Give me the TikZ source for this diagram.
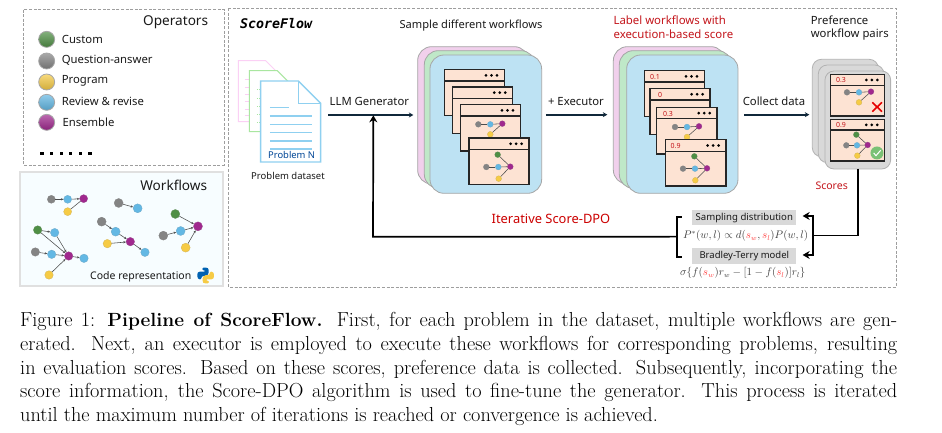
\documentclass[tikz,border=0pt]{standalone}
\usepackage{fontspec}
\usetikzlibrary{arrows.meta}
\newfontfamily\lab{Noto Sans}
\newfontfamily\codef{DejaVu Sans Mono}
\definecolor{cgray}{HTML}{848484}
\definecolor{cblue}{HTML}{63B8E4}
\definecolor{cyell}{HTML}{F6CB45}
\definecolor{cpurp}{HTML}{A0288E}
\definecolor{cgreen}{HTML}{4F8F45}
\definecolor{dark}{HTML}{10283A}
\definecolor{redt}{HTML}{C4161C}
\definecolor{peach}{HTML}{FDE3D3}
\definecolor{pinkp}{HTML}{F1D0EC}
\definecolor{greenp}{HTML}{BFE8C8}
\definecolor{bluep}{HTML}{BDE2F3}
\definecolor{docb}{HTML}{8FD0F0}
\definecolor{docp}{HTML}{FBD0F5}
\definecolor{docg}{HTML}{A9E6A0}
\tikzset{
  dotn/.style={circle,inner sep=0pt,minimum size=5.8pt,draw=#1!70!gray,line width=.3pt},
  gd/.style={dotn=cgray,fill=cgray},
  bd/.style={dotn=cblue,fill=cblue},
  yd/.style={dotn=cyell,fill=cyell},
  pd/.style={dotn=cpurp,fill=cpurp},
  cd/.style={dotn=cgreen,fill=cgreen},
  bigd/.style={minimum size=16pt,draw=gray!70,line width=.8pt,shading=axis,shading angle=135,top color=#1!70!white,bottom color=#1!85!black},
  edg/.style={draw=black!70,line width=.55pt},
  edga/.style={edg,-{Stealth[length=2.6pt,width=2.2pt]}},
  dashbox/.style={draw=black!38,line width=.9pt,dash pattern=on 3pt off 1.6pt},
  panelp/.style={draw=gray!70!white,line width=.8pt,rounded corners=14pt},
  wfbox/.style={draw=black!85,line width=1.1pt,fill=peach},
  flowarrow/.style={draw=dark,line width=1.9pt,-{Stealth[length=4.5pt,width=5pt]}},
  backline/.style={draw=black,line width=1.7pt},
  backarrow/.style={backline,-{Stealth[length=7pt,width=8pt]}},
  lbl/.style={font=\lab\fontsize{11.3}{13}\selectfont,text=black!90,inner sep=0pt},
  lbls/.style={font=\lab\fontsize{9.5}{11}\selectfont,text=black!90,inner sep=0pt},
  oplbl/.style={font=\lab\fontsize{11.3}{13}\selectfont,text=black!90,inner sep=0pt,anchor=west},
  titlel/.style={font=\lab\fontsize{13.6}{15}\selectfont,text=black!90,inner sep=0pt},
  redl/.style={font=\lab\fontsize{10.5}{12}\selectfont,text=redt,inner sep=0pt},
  scorel/.style={font=\lab\fontsize{7}{8}\selectfont,text=redt,inner sep=0pt},
  capl/.style={anchor=base west,inner sep=0pt,font=\fontsize{20.3}{24}\selectfont},
  zoomA/.style={x=.3333pt,y=-.3333pt,shift={(10pt,0pt)}},
  zoomB/.style={x=.3333pt,y=-.3333pt,shift={(320pt,0pt)}},
  zoomC/.style={x=.3333pt,y=-.3333pt,shift={(600pt,0pt)}},
}
% three-dots: right end x, y
\newcommand\tdots[2]{\foreach \k in {0,1,2}{\fill[black] ({#1-\k*16.5},{#2}) circle (1.5pt);}}
% window: x1 y1 x2 y2 header
\newcommand\wfwin[5]{%
  \draw[wfbox] (#1,#2) rectangle (#3,#4);
  \draw[wfbox] (#1,#2) rectangle (#3,#5);
  \tdots{#3-22}{#2+(#5-#2)/2}}
\newcommand\flowA[3]{\begin{scope}[shift={(#2,#3)}]
  \node[gd] (#1g) at (0,0) {};\node[bd] (#1b) at (36,0) {};
  \node[pd] (#1p) at (72,-2) {};\node[yd] (#1y) at (36,30) {};
  \draw[edg] (#1g)--(#1b); \draw[edg] (#1b)--(#1p); \draw[edg] (#1y)--(#1p);
\end{scope}}
\newcommand\flowB[3]{\begin{scope}[shift={(#2,#3)}]
  \node[cd] (#1c) at (34,-37) {};\node[gd] (#1g) at (0,0) {};\node[bd] (#1b) at (36,0) {};
  \node[pd] (#1p) at (72,-1) {};\node[yd] (#1y) at (37,35) {};
  \draw[edg] (#1g)--(#1b); \draw[edg] (#1b)--(#1p); \draw[edg] (#1y)--(#1p); \draw[edg] (#1c)--(#1p);
\end{scope}}
\newcommand\pgr[1]{\textcolor{red!75!white}{#1}}
\newcommand\docshape[5]{%
  \draw[draw=#5,line width=1pt,fill=white] (#1,#2)--({#3-33},#2)--(#3,{#2+33})--(#3,#4)--(#1,#4)--cycle;}
\begin{document}
\begin{tikzpicture}[x=1pt,y=-1pt]
\useasboundingbox (0,0) rectangle (942,432);
\fill[white] (0,0) rectangle (942,432);

% ---------- frames
\draw[dashbox] (23.3,9.5) rectangle (224,165);
\draw[draw=black!12,line width=1.1pt,fill=cyan!3!white] (20,172) rectangle (223,286);
\draw[dashbox,line width=.7pt] (228.5,8) rectangle (896,287);

% ---------- operators
\begin{scope}[zoomA]
\node[titlel,anchor=east] (optitle) at (595,68) {Operators};
\node[circle,bigd=cgreen] (op1) at (110,118) {};
\node[circle,bigd=cgray]  (op2) at (110,183) {};
\node[circle,bigd=cyell]  (op3) at (110,246) {};
\node[circle,bigd=cblue]  (op4) at (110,307) {};
\node[circle,bigd=cpurp]  (op5) at (110,367) {};
\node[oplbl] (opl1) at (155,118) {Custom};
\node[oplbl] (opl2) at (155,180) {Question-answer};
\node[oplbl] (opl3) at (155,243) {Program};
\node[oplbl] (opl4) at (155,304) {Review \& revise};
\node[oplbl] (opl5) at (157,366) {Ensemble};
\foreach \i in {0,...,5}{\fill[black] ({96+\i*28.8-5},455) rectangle ({96+\i*28.8+5},466);}

% ---------- workflows
\node[titlel,anchor=east] (wftitle) at (592,555) {Workflows};
\node[gd,minimum size=8pt] (a1) at (124,598) {};
\node[bd,minimum size=8pt] (a2) at (173,598) {};
\node[pd,minimum size=8pt] (a3) at (221,596) {};
\node[yd,minimum size=8pt] (a4) at (173,635) {};
\draw[edga] (a1)--(a2); \draw[edga] (a2)--(a3); \draw[edg] (a4)--(a3);
\node[gd,minimum size=9pt] (b1) at (326,609) {};
\node[bd,minimum size=9pt] (b2) at (383,625) {};
\draw[edga] (b1)--(b2);
\node[gd,minimum size=9pt] (c1) at (275,665) {};
\node[bd,minimum size=9pt] (c2) at (317,695) {};
\node[pd,minimum size=8.5pt] (c3) at (361,725) {};
\node[yd,minimum size=8.5pt] (c4) at (292,731) {};
\node[bd,minimum size=8.5pt] (c5) at (405,757) {};
\draw[edga] (c1)--(c2); \draw[edga] (c2)--(c3); \draw[edga] (c4)--(c3); \draw[edga] (c3)--(c5);
\node[cd,minimum size=9pt] (d1) at (496,642) {};
\node[pd,minimum size=9pt] (d2) at (564,679) {};
\node[bd,minimum size=9pt] (d3) at (512,693) {};
\node[gd,minimum size=9pt] (d4) at (460,707) {};
\node[yd,minimum size=9pt] (d5) at (527,743) {};
\draw[edga] (d1)--(d2); \draw[edga] (d4)--(d3); \draw[edga] (d3)--(d2); \draw[edga] (d5)--(d2);
\node[cd,minimum size=8.5pt] (e1) at (83,690) {};
\node[bd,minimum size=8.5pt] (e2) at (134,698) {};
\node[gd,minimum size=8.5pt] (e3) at (76,756) {};
\node[bd,minimum size=8.5pt] (e4) at (125,763) {};
\node[pd,minimum size=8.5pt] (e5) at (176,768) {};
\node[bd,minimum size=8.5pt] (e6) at (222,775) {};
\node[yd,minimum size=8.5pt] (e7) at (117,825) {};
\draw[edga] (e1)--(e2); \draw[edga] (e1)--(e5); \draw[edga] (e2)--(e5); \draw[edga] (e3)--(e4);
\draw[edga] (e4)--(e5); \draw[edga] (e5)--(e6); \draw[edga] (e7)--(e5);
\node[lbls,font=\lab\fontsize{10.5}{12}\selectfont,anchor=west] (coderep) at (240,829) {Code representation};
% python logo
\fill[rounded corners=1.1pt,fill=blue!45!cyan!70!black]
  (577,803)--(592,803)--(596,807)--(596,821)--(590,827)--(577,828)--(574,832)--(574,838)--(566,838)--(562,832)--(562,820)--(566,815)--(586,815)--(586,811)--(577,811)--cycle;
\fill[rounded corners=1.1pt,fill=cyell]
  (597,850)--(582,850)--(578,846)--(578,832)--(584,826)--(597,825)--(600,821)--(600,815)--(608,815)--(612,821)--(612,833)--(608,838)--(588,838)--(588,842)--(597,842)--cycle;

% ---------- document stack
\docshape{685}{182}{800}{365}{docp}
\foreach \y in {240,262,284,306,328,348}{\draw[draw=docp,line width=1pt] (705,\y)--(716,\y);}
\docshape{718}{212}{835}{395}{docg}
\foreach \y in {270,295,320,345,368}{\draw[draw=docg,line width=1pt,dash pattern=on 1.5pt off 1pt] (741,\y)--(749,\y);}
\draw[draw=docb,line width=1.4pt,fill=white] (752,243)--(865,243)--(932,310)--(932,486)--(752,486)--cycle;
\draw[draw=docb,line width=1.4pt] (865,243)--(865,310)--(932,310);
\draw[draw=docb,line width=1.2pt] (780,323)--(838,323);
\foreach \y in {348,373,398,423,447}{\draw[draw=docb,line width=1.2pt] (780,\y)--(905,\y);}
\node[font=\lab\fontsize{9.4}{12}\selectfont,text=black!30!blue!45!teal,inner sep=0pt] (probn) at (845,464) {Problem N};
\node[lbls] (probd) at (834,527) {Problem dataset};
\node[font=\codef\bfseries\itshape\fontsize{13.3}{15}\selectfont,inner sep=0pt,anchor=west] (sf) at (690,72) {ScoreFlow};
\end{scope}

% ---------- first stack
\begin{scope}[zoomB]
\node[lbl,font=\lab\fontsize{11.1}{13}\selectfont] (samp) at (453,78) {Sample different workflows};
\draw[panelp,fill=pinkp] (293,140) rectangle (625,552);
\draw[panelp,fill=greenp] (313,152) rectangle (645,565);
\draw[panelp,fill=bluep] (330,165) rectangle (665,580);
\wfwin{374}{209}{553}{347}{243}
\wfwin{398}{261}{578}{400}{295}
\wfwin{421}{314}{601}{453}{348}
\flowA{fa}{475}{373}
\wfwin{447}{414}{627}{553}{449}
\flowB{fb}{499}{501}
\coordinate (llmS) at (25,345); \coordinate (llmE) at (280,345);
\coordinate (exS) at (678,344); \coordinate (exE) at (862,344);
\coordinate (backT) at (160,346);
\draw[flowarrow] (llmS)--(llmE);
\draw[flowarrow] (exS)--(exE);
\node[lbl] (llm) at (148,305) {LLM Generator};
\node[lbl] (ex) at (768,305) {+ Executor};
\node[font=\lab\fontsize{12.9}{15}\selectfont,text=red!80!black,inner sep=0pt] (iter) at (693,657) {Iterative Score-DPO};
\end{scope}

% ---------- second stack + right side
\begin{scope}[zoomC]
\node[redl,anchor=west,font=\lab\fontsize{11.4}{13}\selectfont] (lab1) at (40,62) {Label workflows with};
\node[redl,anchor=west,font=\lab\fontsize{11.4}{13}\selectfont] (lab2) at (40,104) {execution-based score};
\draw[panelp,fill=pinkp] (40,140) rectangle (375,552);
\draw[panelp,fill=greenp] (58,152) rectangle (395,565);
\draw[panelp,fill=bluep] (80,165) rectangle (414,580);
\wfwin{134}{212}{313}{350}{246}
\node[scorel] (s1) at (165,230) {0.1};
\wfwin{150}{266}{330}{404}{300}
\node[scorel] (s2) at (180,285) {0};
\wfwin{170}{323}{351}{462}{356}
\node[scorel] (s3) at (204,343) {0.3};
\flowA{fc}{225}{381}
\wfwin{197}{419}{378}{558}{454}
\node[scorel] (s4) at (227,438) {0.9};
\flowB{fd}{249}{506}
\coordinate (colS) at (433,344); \coordinate (colE) at (628,344);
\draw[flowarrow] (colS)--(colE);
\node[lbl] (col) at (522,305) {Collect data};
\node[lbl,anchor=west] (pref1) at (632,62) {Preference};
\node[lbl,anchor=west] (pref2) at (632,104) {workflow pairs};
\draw[draw=gray!60!white,line width=.8pt,fill=black!15,rounded corners=9pt] (637,178) rectangle (835,470);
\draw[draw=gray!60!white,line width=.8pt,fill=black!15,rounded corners=9pt] (655,195) rectangle (852,488);
\draw[draw=gray!60!white,line width=.8pt,fill=black!15,rounded corners=9pt] (675,213) rectangle (872,507);
\wfwin{692}{224}{854}{348}{256}
\node[scorel] (s5) at (723,241) {0.3};
\flowA{fe}{741}{277}
\draw[draw=red!90!black,line width=1.6pt] (817,307)--(846,335);
\draw[draw=red!90!black,line width=1.6pt] (846,307)--(817,335);
\wfwin{692}{359}{854}{483}{390}
\node[scorel] (s6) at (723,376) {0.9};
\begin{scope}[shift={(739,436)}]
\node[cd] (ffc) at (30,-32) {};\node[gd] (ffg) at (0,0) {};\node[bd] (ffb) at (32,0) {};
\node[pd] (ffp) at (64,-1) {};\node[yd] (ffy) at (33,31) {};
\draw[edg] (ffg)--(ffb); \draw[edg] (ffb)--(ffp); \draw[edg] (ffy)--(ffp); \draw[edg] (ffc)--(ffp);
\end{scope}
\fill[fill=docg!70!green!60!gray] (831,459) circle (6.5pt);
\draw[white,line width=1pt] (821,459)--(828,467)--(842,451);
% score section
\coordinate (stkB) at (775,507);
\coordinate (corner) at (775,707);
\coordinate (split) at (640,707);
\coordinate (splitT) at (640,648);
\coordinate (splitB) at (640,765);
\coordinate (arrT) at (608,648);
\coordinate (arrB) at (608,765);
\node[redl] (scores) at (695,557) {Scores};
\node[fill=black!15,inner sep=0pt,minimum width=104pt,minimum height=15.5pt,lbl,font=\lab\fontsize{9.6}{11}\selectfont] (sampd) at (433,653) {Sampling distribution};
\node[fill=black!15,inner sep=0pt,minimum width=104pt,minimum height=16pt,lbl,font=\lab\fontsize{9.5}{11}\selectfont] (btm) at (433,768) {Bradley-Terry model};
\node[inner sep=0pt,text=black!75,font=\fontsize{10.5}{12}\selectfont] (form1) at (437,707) {$P^{*}(w,l)\propto d(\pgr{s_w},\pgr{s_l})P(w,l)$};
\node[inner sep=0pt,text=black!75,font=\fontsize{10.5}{12}\selectfont] (form2) at (428,818) {$\sigma\{f(\pgr{s_w})r_w-[1-f(\pgr{s_l})]r_l\}$};
\draw[backline] (245,652)--(230,652)--(230,772)--(245,772);
\coordinate (brk) at (230,710);
\draw[backline,line join=miter] (stkB)--(corner)--(split);
\draw[backarrow] (split)--(splitT)--(arrT);
\draw[backarrow] (split)--(splitB)--(arrB);
\end{scope}

% ---------- feedback line
\coordinate (backC) at (373,236.7);
\draw[backarrow] (brk)--(backC)--(backT);

% ---------- caption
\node[capl] (cap1) at (20,326) {\hbox to 877pt{Figure 1: {\fontsize{19.1}{24}\selectfont\bfseries Pipeline of ScoreFlow.} First, for each problem in the dataset, multiple workflows are gen-}};
\node[capl] (cap2) at (20,350) {\hbox to 877pt{erated. Next, an executor is employed to execute these workflows for corresponding problems, resulting}};
\node[capl] (cap3) at (20,374) {\hbox to 877pt{in evaluation scores. Based on these scores, preference data is collected. Subsequently, incorporating the}};
\node[capl] (cap4) at (20,397.5) {\hbox to 877pt{score information, the Score-DPO algorithm is used to fine-tune the generator. This process is iterated}};
\node[capl] (cap5) at (20,421.5) {until the maximum number of iterations is reached or convergence is achieved.};
\end{tikzpicture}
\end{document}
